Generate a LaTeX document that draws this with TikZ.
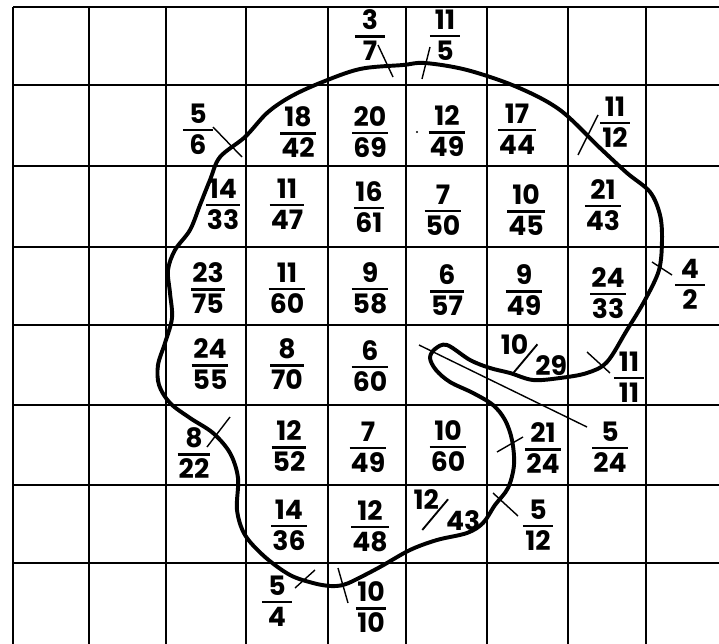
\documentclass[tikz,border=0pt]{standalone}
\usepackage{fontspec}
\setmainfont{Poppins}
\usepackage{tikz}
\newcommand\fracsize{\fontsize{19}{22}\selectfont}
\newlength\frw
\newsavebox\frtop
\newsavebox\frbot
\newcommand\fr[2]{%
  \sbox\frtop{#1}\sbox\frbot{#2}%
  \setlength\frw{1.05em}%
  \ifdim\wd\frtop>\frw \setlength\frw{\wd\frtop}\fi
  \ifdim\wd\frbot>\frw \setlength\frw{\wd\frbot}\fi
  \addtolength\frw{0.08em}%
  \renewcommand\arraystretch{0}%
  \setlength\arrayrulewidth{1.6pt}%
  \begin{tabular}{@{}c@{}}
    \rule[-0.22em]{0pt}{0.22em}\makebox[\frw]{\usebox\frtop}\\\hline
    \rule{0pt}{0.86em}\usebox\frbot
  \end{tabular}}
\newcommand\slfr[2]{\raisebox{0.8em}{#1}\kern-0.65em\rotatebox{50}{\rule{1.5em}{0.07em}}\kern-0.1em#2}
\tikzset{
  gridline/.style={line width=1.1pt, draw=black},
  rim/.style={line width=2.8pt, line join=round, line cap=round},
  tick/.style={line width=1pt},
  frac/.style={font=\fracsize\bfseries, inner sep=0pt},
}
\begin{document}
\begin{tikzpicture}[x=0.025cm, y=-0.025cm]
  \useasboundingbox (0,0) rectangle (719,644);
  \foreach \gx in {13,89,166,246,328,406,487,568,646}
    \draw[gridline] (\gx,7) -- (\gx,644);
  \foreach \gy in {7,85,166,247,325,405,485,563}
    \draw[gridline] (13,\gy) -- (719,\gy);

  \draw[rim] plot[smooth cycle, tension=0.55] coordinates {
    (320,83) (360,69) (403,65) (425,63) (467,70) (517,87) (560,110)
    (600,148) (627,173) (650,192) (660,215) (662,240) (659,270)
    (645,300) (627,330) (607,362) (587,373) (560,378) (533,380)
    (510,373) (490,368) (470,360) (447,345) (435,349) (430,358)
    (436,370) (450,382) (473,393) (493,405) (505,420) (512,440)
    (514,465) (508,488) (495,505) (483,523) (467,533) (437,540)
    (410,550) (380,567) (355,580) (343,585) (330,586) (313,583)
    (290,575) (265,557) (245,535) (237,510) (238,478) (230,453)
    (213,433) (190,418) (170,403) (159,385) (158,365) (165,343)
    (172,318) (170,293) (168,270) (175,250) (190,230) (200,205)
    (210,180) (220,157) (245,137) (267,113) (290,97)};

  \draw[tick] (378,45) -- (393,77);
  \draw[tick] (430,47) -- (422,79);
  \draw[tick] (213,127) -- (242,157);
  \draw[tick] (598,115) -- (578,155);
  \draw[tick] (652,262) -- (672,275);
  \draw[tick] (587,352) -- (610,373);
  \draw[tick] (419,345) -- (587,427);
  \draw[tick] (497,452) -- (523,437);
  \draw[tick] (493,493) -- (518,516);
  \draw[tick] (338,568) -- (348,603);
  \draw[tick] (315,570) -- (295,588);
  \draw[tick] (230,417) -- (207,447);
  \fill (417,132) circle (1.2);

  \node[frac] (f3x7) at (370,35) {\fr{3}{7}};
  \node[frac] (f11x5) at (445,35) {\fr{11}{5}};

  \node[frac] (f5x6) at (198,129) {\fr{5}{6}};
  \node[frac] (f18x42) at (298,132) {\fr{18}{42}};
  \node[frac] (f20x69) at (370,132) {\fr{20}{69}};
  \node[frac] (f12x49) at (447,131) {\fr{12}{49}};
  \node[frac] (f17x44) at (517,129) {\fr{17}{44}};
  \node[frac] (f11x12) at (615,122) {\fr{11}{12}};

  \node[frac] (f14x33) at (223,204) {\fr{14}{33}};
  \node[frac] (f11x47) at (287,204) {\fr{11}{47}};
  \node[frac] (f16x61) at (369,207) {\fr{16}{61}};
  \node[frac] (f7x50) at (443,210) {\fr{7}{50}};
  \node[frac] (f10x45) at (526,210) {\fr{10}{45}};
  \node[frac] (f21x43) at (603,205) {\fr{21}{43}};

  \node[frac] (f23x75) at (208,288) {\fr{23}{75}};
  \node[frac] (f11x60) at (287,288) {\fr{11}{60}};
  \node[frac] (f9x58) at (370,288) {\fr{9}{58}};
  \node[frac] (f6x57) at (447,290) {\fr{6}{57}};
  \node[frac] (f9x49) at (524,290) {\fr{9}{49}};
  \node[frac] (f24x33) at (608,293) {\fr{24}{33}};
  \node[frac] (f4x2) at (690,284) {\fr{4}{2}};

  \node[frac] (f24x55) at (210,364) {\fr{24}{55}};
  \node[frac] (f8x70) at (287,364) {\fr{8}{70}};
  \node[frac] (f6x60) at (370,366) {\fr{6}{60}};
  \node[frac] (f10x29) at (534,355) {\slfr{10}{29}};
  \node[frac] (f11x11) at (629,377) {\fr{11}{11}};

  \node[frac] (f8x22) at (194,453) {\fr{8}{22}};
  \node[frac] (f12x52) at (289,446) {\fr{12}{52}};
  \node[frac] (f7x49) at (368,447) {\fr{7}{49}};
  \node[frac] (f10x60) at (448,446) {\fr{10}{60}};
  \node[frac] (f21x24) at (543,448) {\fr{21}{24}};
  \node[frac] (f5x24) at (610,447) {\fr{5}{24}};

  \node[frac] (f14x36) at (289,525) {\fr{14}{36}};
  \node[frac] (f12x48) at (370,526) {\fr{12}{48}};
  \node[frac] (f12x43) at (447,510) {\slfr{12}{43}};
  \node[frac] (f5x12) at (538,525) {\fr{5}{12}};

  \node[frac] (f5x4) at (277,601) {\fr{5}{4}};
  \node[frac] (f10x10) at (371,607) {\fr{10}{10}};
\end{tikzpicture}
\end{document}
